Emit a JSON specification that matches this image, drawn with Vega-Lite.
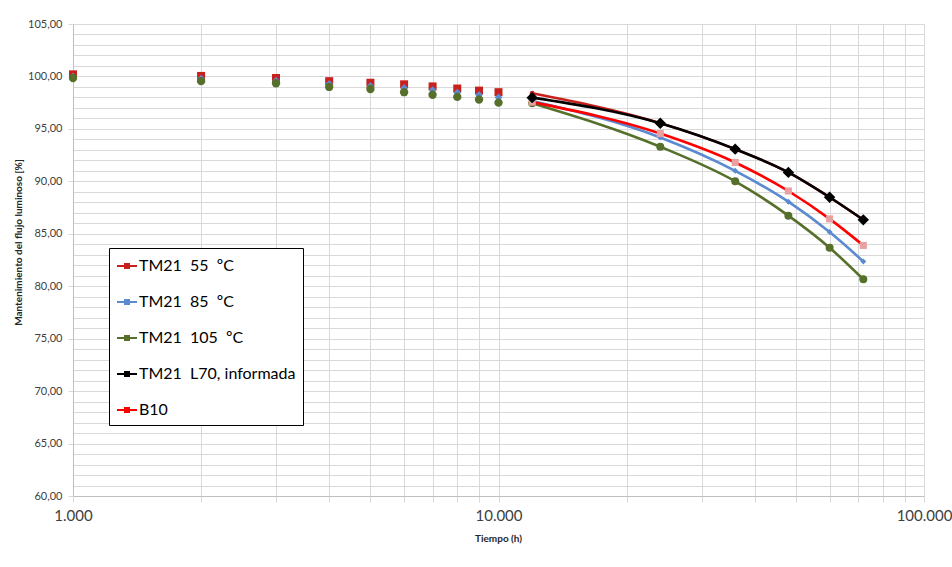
{
  "$schema": "https://vega.github.io/schema/vega-lite/v6.json",
  "width": 851,
  "height": 472,
  "autosize": {"type": "none"},
  "padding": {"left": 73, "top": 24, "right": 28, "bottom": 71},
  "background": "white",
  "config": {
    "view": {"stroke": null},
    "font": "Lato"
  },
  "datasets": {
    "d": [
      {"serie": "TM21\u00a0\u00a055\u00a0\u00a0ºC", "fase": "medido", "t": 1000, "v": 100.2},
      {"serie": "TM21\u00a0\u00a055\u00a0\u00a0ºC", "fase": "medido", "t": 2000, "v": 100.05},
      {"serie": "TM21\u00a0\u00a055\u00a0\u00a0ºC", "fase": "medido", "t": 3000, "v": 99.85},
      {"serie": "TM21\u00a0\u00a055\u00a0\u00a0ºC", "fase": "medido", "t": 4000, "v": 99.55},
      {"serie": "TM21\u00a0\u00a055\u00a0\u00a0ºC", "fase": "medido", "t": 5000, "v": 99.4},
      {"serie": "TM21\u00a0\u00a055\u00a0\u00a0ºC", "fase": "medido", "t": 6000, "v": 99.25},
      {"serie": "TM21\u00a0\u00a055\u00a0\u00a0ºC", "fase": "medido", "t": 7000, "v": 99.05},
      {"serie": "TM21\u00a0\u00a055\u00a0\u00a0ºC", "fase": "medido", "t": 8000, "v": 98.85},
      {"serie": "TM21\u00a0\u00a055\u00a0\u00a0ºC", "fase": "medido", "t": 9000, "v": 98.65},
      {"serie": "TM21\u00a0\u00a055\u00a0\u00a0ºC", "fase": "medido", "t": 10000, "v": 98.5},
      {"serie": "TM21\u00a0\u00a085\u00a0\u00a0ºC", "fase": "medido", "t": 1000, "v": 100.0},
      {"serie": "TM21\u00a0\u00a085\u00a0\u00a0ºC", "fase": "medido", "t": 2000, "v": 99.8},
      {"serie": "TM21\u00a0\u00a085\u00a0\u00a0ºC", "fase": "medido", "t": 3000, "v": 99.6},
      {"serie": "TM21\u00a0\u00a085\u00a0\u00a0ºC", "fase": "medido", "t": 4000, "v": 99.3},
      {"serie": "TM21\u00a0\u00a085\u00a0\u00a0ºC", "fase": "medido", "t": 5000, "v": 99.1},
      {"serie": "TM21\u00a0\u00a085\u00a0\u00a0ºC", "fase": "medido", "t": 6000, "v": 98.9},
      {"serie": "TM21\u00a0\u00a085\u00a0\u00a0ºC", "fase": "medido", "t": 7000, "v": 98.7},
      {"serie": "TM21\u00a0\u00a085\u00a0\u00a0ºC", "fase": "medido", "t": 8000, "v": 98.45},
      {"serie": "TM21\u00a0\u00a085\u00a0\u00a0ºC", "fase": "medido", "t": 9000, "v": 98.25},
      {"serie": "TM21\u00a0\u00a085\u00a0\u00a0ºC", "fase": "medido", "t": 10000, "v": 98.0},
      {"serie": "TM21\u00a0\u00a0105\u00a0\u00a0ºC", "fase": "medido", "t": 1000, "v": 99.85},
      {"serie": "TM21\u00a0\u00a0105\u00a0\u00a0ºC", "fase": "medido", "t": 2000, "v": 99.55},
      {"serie": "TM21\u00a0\u00a0105\u00a0\u00a0ºC", "fase": "medido", "t": 3000, "v": 99.35},
      {"serie": "TM21\u00a0\u00a0105\u00a0\u00a0ºC", "fase": "medido", "t": 4000, "v": 99.0},
      {"serie": "TM21\u00a0\u00a0105\u00a0\u00a0ºC", "fase": "medido", "t": 5000, "v": 98.8},
      {"serie": "TM21\u00a0\u00a0105\u00a0\u00a0ºC", "fase": "medido", "t": 6000, "v": 98.5},
      {"serie": "TM21\u00a0\u00a0105\u00a0\u00a0ºC", "fase": "medido", "t": 7000, "v": 98.25},
      {"serie": "TM21\u00a0\u00a0105\u00a0\u00a0ºC", "fase": "medido", "t": 8000, "v": 98.05},
      {"serie": "TM21\u00a0\u00a0105\u00a0\u00a0ºC", "fase": "medido", "t": 9000, "v": 97.8},
      {"serie": "TM21\u00a0\u00a0105\u00a0\u00a0ºC", "fase": "medido", "t": 10000, "v": 97.5},
      {"serie": "TM21\u00a0\u00a055\u00a0\u00a0ºC", "fase": "proy", "t": 12000, "v": 98.4},
      {"serie": "TM21\u00a0\u00a055\u00a0\u00a0ºC", "fase": "proy", "t": 24000, "v": 95.55},
      {"serie": "TM21\u00a0\u00a055\u00a0\u00a0ºC", "fase": "proy", "t": 36000, "v": 93.07},
      {"serie": "TM21\u00a0\u00a055\u00a0\u00a0ºC", "fase": "proy", "t": 48000, "v": 90.85},
      {"serie": "TM21\u00a0\u00a055\u00a0\u00a0ºC", "fase": "proy", "t": 60000, "v": 88.48},
      {"serie": "TM21\u00a0\u00a055\u00a0\u00a0ºC", "fase": "proy", "t": 72000, "v": 86.33},
      {"serie": "TM21\u00a0\u00a085\u00a0\u00a0ºC", "fase": "proy", "t": 12000, "v": 97.66},
      {"serie": "TM21\u00a0\u00a085\u00a0\u00a0ºC", "fase": "proy", "t": 24000, "v": 94.18},
      {"serie": "TM21\u00a0\u00a085\u00a0\u00a0ºC", "fase": "proy", "t": 36000, "v": 91.0},
      {"serie": "TM21\u00a0\u00a085\u00a0\u00a0ºC", "fase": "proy", "t": 48000, "v": 88.06},
      {"serie": "TM21\u00a0\u00a085\u00a0\u00a0ºC", "fase": "proy", "t": 60000, "v": 85.16},
      {"serie": "TM21\u00a0\u00a085\u00a0\u00a0ºC", "fase": "proy", "t": 72000, "v": 82.36},
      {"serie": "TM21\u00a0\u00a0105\u00a0\u00a0ºC", "fase": "proy", "t": 12000, "v": 97.44},
      {"serie": "TM21\u00a0\u00a0105\u00a0\u00a0ºC", "fase": "proy", "t": 24000, "v": 93.29},
      {"serie": "TM21\u00a0\u00a0105\u00a0\u00a0ºC", "fase": "proy", "t": 36000, "v": 90.0},
      {"serie": "TM21\u00a0\u00a0105\u00a0\u00a0ºC", "fase": "proy", "t": 48000, "v": 86.73},
      {"serie": "TM21\u00a0\u00a0105\u00a0\u00a0ºC", "fase": "proy", "t": 60000, "v": 83.67},
      {"serie": "TM21\u00a0\u00a0105\u00a0\u00a0ºC", "fase": "proy", "t": 72000, "v": 80.66},
      {"serie": "B10", "fase": "proy", "t": 12000, "v": 97.55},
      {"serie": "B10", "fase": "proy", "t": 24000, "v": 94.56},
      {"serie": "B10", "fase": "proy", "t": 36000, "v": 91.8},
      {"serie": "B10", "fase": "proy", "t": 48000, "v": 89.08},
      {"serie": "B10", "fase": "proy", "t": 60000, "v": 86.42},
      {"serie": "B10", "fase": "proy", "t": 72000, "v": 83.89},
      {"serie": "TM21\u00a0\u00a0L70,\u00a0informada", "fase": "proy", "t": 12000, "v": 97.98},
      {"serie": "TM21\u00a0\u00a0L70,\u00a0informada", "fase": "proy", "t": 24000, "v": 95.54},
      {"serie": "TM21\u00a0\u00a0L70,\u00a0informada", "fase": "proy", "t": 36000, "v": 93.07},
      {"serie": "TM21\u00a0\u00a0L70,\u00a0informada", "fase": "proy", "t": 48000, "v": 90.85},
      {"serie": "TM21\u00a0\u00a0L70,\u00a0informada", "fase": "proy", "t": 60000, "v": 88.48},
      {"serie": "TM21\u00a0\u00a0L70,\u00a0informada", "fase": "proy", "t": 72000, "v": 86.33}
    ]
  },
  "data": {"name": "d"},
  "encoding": {
    "x": {
      "field": "t", "type": "quantitative",
      "scale": {"type": "log", "domain": [1000, 100000], "nice": false},
      "axis": {
        "title": "Tiempo (h)",
        "values": [1000, 2000, 3000, 4000, 5000, 6000, 7000, 8000, 9000, 10000, 20000, 30000, 40000, 50000, 60000, 70000, 80000, 90000, 100000],
        "labelExpr": "datum.value == 1000 ? '1.000' : datum.value == 10000 ? '10.000' : datum.value == 100000 ? '100.000' : ''",
        "labelFontSize": 15, "labelColor": "#404040", "labelPadding": 6,
        "labelOverlap": false, "labelFlush": false, "labelBound": false,
        "tickSize": 6, "tickColor": "#D9D9D9",
        "gridColor": "#D9D9D9", "domainColor": "#BFBFBF",
        "titleFontSize": 10, "titleFontWeight": "bold", "titleColor": "#262626",
        "titleX": 425, "titleY": 42, "titleBaseline": "middle"
      }
    },
    "y": {
      "field": "v", "type": "quantitative",
      "scale": {"domain": [60, 105], "nice": false, "zero": false},
      "axis": {
        "title": "Mantenimiento del flujo luminoso [%]",
        "values": [60, 61, 62, 63, 64, 65, 66, 67, 68, 69, 70, 71, 72, 73, 74, 75, 76, 77, 78, 79, 80, 81, 82, 83, 84, 85, 86, 87, 88, 89, 90, 91, 92, 93, 94, 95, 96, 97, 98, 99, 100, 101, 102, 103, 104, 105],
        "labelExpr": "datum.value % 5 == 0 ? replace(format(datum.value, '.2f'), '.', ',') : ''",
        "labelFontSize": 11, "labelColor": "#404040", "labelPadding": 6,
        "labelOverlap": false, "labelBound": false, "labelFlush": false,
        "tickSize": 5, "tickColor": "#D9D9D9",
        "tickOpacity": {"condition": {"test": "datum.value % 5 == 0", "value": 1}, "value": 0},
        "gridColor": "#D9D9D9", "domainColor": "#BFBFBF",
        "titleFontSize": 10, "titleFontWeight": "bold", "titleColor": "#262626",
        "titleX": -55, "titleY": 218, "titleBaseline": "middle", "titleAlign": "center"
      }
    },
    "color": {
      "field": "serie", "type": "nominal",
      "scale": {
        "domain": ["TM21\u00a0\u00a055\u00a0\u00a0ºC", "TM21\u00a0\u00a085\u00a0\u00a0ºC", "TM21\u00a0\u00a0105\u00a0\u00a0ºC", "TM21\u00a0\u00a0L70,\u00a0informada", "B10"],
        "range": ["#C8201C", "#5A8AD0", "#56702C", "#000000", "#FF0000"]
      },
      "legend": {
        "title": null, "orient": "none", "legendX": 36, "legendY": 224,
        "strokeColor": "#000000", "fillColor": "#FFFFFF", "padding": 7,
        "rowPadding": 17, "labelFontSize": 16, "labelFont": "Lato", "labelColor": "#000000",
        "labelLimit": 300, "labelOffset": 1,
        "symbolType": "M-1,0L1,0M-0.2,-0.2L0.2,-0.2L0.2,0.2L-0.2,0.2Z",
        "symbolSize": 400, "symbolStrokeWidth": 2
      }
    }
  },
  "layer": [
    {
      "transform": [{"filter": "datum.fase == 'medido' && indexof(datum.serie, '55') >= 0"}],
      "mark": {"type": "point", "filled": true, "opacity": 1, "shape": "square", "size": 64}
    },
    {
      "transform": [{"filter": "datum.fase == 'medido' && indexof(datum.serie, '85') >= 0"}],
      "mark": {"type": "point", "filled": true, "opacity": 1, "shape": "diamond", "size": 60}
    },
    {
      "transform": [{"filter": "datum.fase == 'medido' && indexof(datum.serie, '105') >= 0"}],
      "mark": {"type": "point", "filled": true, "opacity": 1, "shape": "circle", "size": 70}
    },
    {
      "transform": [{"filter": "datum.fase == 'proy'"}],
      "mark": {"type": "line", "interpolate": "monotone", "strokeWidth": 2.6}
    },
    {
      "transform": [{"filter": "datum.fase == 'proy' && indexof(datum.serie, '55') >= 0"}],
      "mark": {"type": "point", "filled": true, "opacity": 1, "shape": "circle", "size": 24}
    },
    {
      "transform": [{"filter": "datum.fase == 'proy' && indexof(datum.serie, '85') >= 0"}],
      "mark": {"type": "point", "filled": true, "opacity": 1, "shape": "diamond", "size": 36}
    },
    {
      "transform": [{"filter": "datum.fase == 'proy' && indexof(datum.serie, '105') >= 0"}],
      "mark": {"type": "point", "filled": true, "opacity": 1, "shape": "circle", "size": 64}
    },
    {
      "transform": [{"filter": "datum.fase == 'proy' && datum.serie == 'B10'"}],
      "mark": {"type": "point", "filled": true, "opacity": 1, "shape": "square", "size": 50},
      "encoding": {"color": {"value": "#E8A0A0"}}
    },
    {
      "transform": [{"filter": "datum.fase == 'proy' && indexof(datum.serie, 'L70') >= 0"}],
      "mark": {"type": "point", "filled": true, "opacity": 1, "shape": "diamond", "size": 130}
    }
  ]
}
